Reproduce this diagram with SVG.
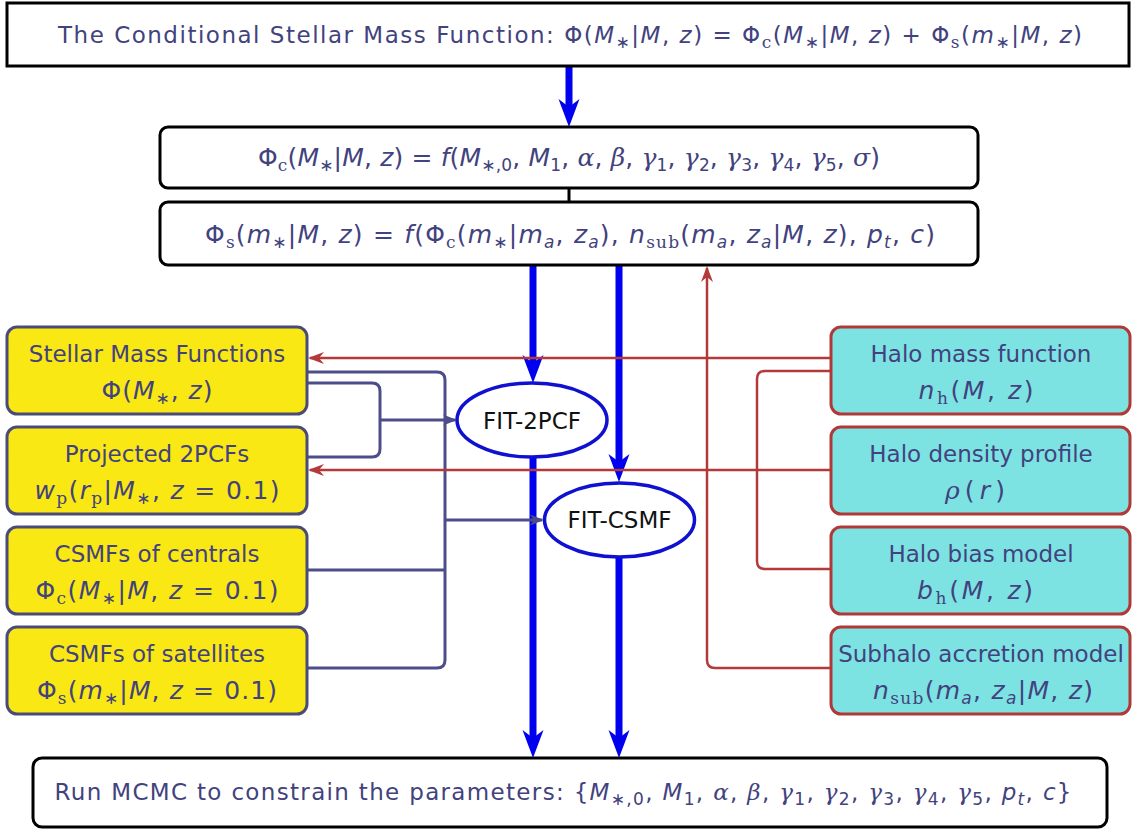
<svg xmlns="http://www.w3.org/2000/svg" width="1136" height="829" viewBox="0 0 1136 829">
<style>
.tx{font-family:"DejaVu Sans","Liberation Sans",sans-serif;font-size:23px;fill:#42427e}
.m{font-size:25px}
.fit{font-family:"DejaVu Sans","Liberation Sans",sans-serif;font-size:23px;fill:#111}
.i{font-style:italic}
.g{font-family:"DejaVu Serif","Liberation Serif",serif;font-style:italic}
.sr{font-family:"DejaVu Serif","Liberation Serif",serif;font-size:17px;baseline-shift:-5px}
.sb{font-size:17px;baseline-shift:-5px}
.si{font-size:17px;font-style:italic;baseline-shift:-5px}
.bx{fill:#fff;stroke:#000;stroke-width:3}
.yb{fill:#f9e814;stroke:#4b4b78;stroke-width:3}
.cb{fill:#7de2e2;stroke:#b03838;stroke-width:3}
.ell{fill:#fff;stroke:#1010d0;stroke-width:3.5}
.blue{fill:none;stroke:#0000ee;stroke-width:7}
.pur{fill:none;stroke:#4d4d8a;stroke-width:3}
.red{fill:none;stroke:#b23a3a;stroke-width:2.5}
</style>
<defs>
<marker id="ab" markerUnits="userSpaceOnUse" orient="auto" overflow="visible" markerWidth="40" markerHeight="30" refX="0" refY="0">
<path d="M18,0 L-10,-10.5 L-2,0 L-10,10.5 Z" fill="#0000ee"/>
</marker>
<marker id="ap" markerUnits="userSpaceOnUse" orient="auto" overflow="visible" markerWidth="20" markerHeight="20" refX="0" refY="0">
<path d="M2,0 L-12,-5.5 L-8,0 L-12,5.5 Z" fill="#4d4d8a"/>
</marker>
<marker id="ar" markerUnits="userSpaceOnUse" orient="auto" overflow="visible" markerWidth="20" markerHeight="20" refX="0" refY="0">
<path d="M2,0 L-14,-6 L-9,0 L-14,6 Z" fill="#b23a3a"/>
</marker>
</defs>

<g id="connectors">
<path class="blue" d="M569,66 V109" marker-end="url(#ab)"/>
<path d="M569,188 V202" stroke="#000" stroke-width="3"/>
<path class="blue" d="M533,265 V365" marker-end="url(#ab)"/>
<path class="blue" d="M619,265 V464" marker-end="url(#ab)"/>
<path class="blue" d="M533,458 V740" marker-end="url(#ab)"/>
<path class="blue" d="M619,558 V740" marker-end="url(#ab)"/>
<path class="pur" d="M307,372 H437 Q445,372 445,380 V660 Q445,668 437,668 H307"/>
<path class="pur" d="M307,570 H445"/>
<path class="pur" d="M445,520 H542" marker-end="url(#ap)"/>
<path class="pur" d="M307,383 H372 Q380,383 380,391 V449 Q380,457 372,457 H307"/>
<path class="pur" d="M380,420 H455" marker-end="url(#ap)"/>
<path class="red" d="M831,358 H310" marker-end="url(#ar)"/>
<path class="red" d="M831,470 H310" marker-end="url(#ar)"/>
<path class="red" d="M831,371 H765 Q757,371 757,379 V561 Q757,569 765,569 H831"/>
<path class="red" d="M831,668 H715 Q707,668 707,660 V268" marker-end="url(#ar)"/>
</g>

<g id="csmf">
<rect class="bx" x="7" y="3" width="1122" height="63"/>
<text class="tx" x="570" y="43" text-anchor="middle" textLength="1024" lengthAdjust="spacing">The Conditional Stellar Mass Function: Φ(<tspan class="i">M</tspan><tspan class="sb">∗</tspan>|<tspan class="i">M</tspan>, <tspan class="i">z</tspan>) = Φ<tspan class="sr">c</tspan>(<tspan class="i">M</tspan><tspan class="sb">∗</tspan>|<tspan class="i">M</tspan>, <tspan class="i">z</tspan>) + Φ<tspan class="sr">s</tspan>(<tspan class="i">m</tspan><tspan class="sb">∗</tspan>|<tspan class="i">M</tspan>, <tspan class="i">z</tspan>)</text>
</g>

<g id="phic">
<rect class="bx" x="160" y="127" width="818" height="61" rx="8"/>
<text class="tx m" x="569" y="166" text-anchor="middle" textLength="622" lengthAdjust="spacing">Φ<tspan class="sr">c</tspan>(<tspan class="i">M</tspan><tspan class="sb">∗</tspan>|<tspan class="i">M</tspan>, <tspan class="i">z</tspan>) = <tspan class="i">f</tspan>(<tspan class="i">M</tspan><tspan class="sb">∗,0</tspan>, <tspan class="i">M</tspan><tspan class="sb">1</tspan>, <tspan class="g">α</tspan>, <tspan class="g">β</tspan>, <tspan class="g">γ</tspan><tspan class="sb">1</tspan>, <tspan class="g">γ</tspan><tspan class="sb">2</tspan>, <tspan class="g">γ</tspan><tspan class="sb">3</tspan>, <tspan class="g">γ</tspan><tspan class="sb">4</tspan>, <tspan class="g">γ</tspan><tspan class="sb">5</tspan>, <tspan class="g">σ</tspan>)</text>
</g>

<g id="phis">
<rect class="bx" x="160" y="202" width="818" height="63" rx="8"/>
<text class="tx m" x="570" y="243" text-anchor="middle" textLength="730" lengthAdjust="spacing">Φ<tspan class="sr">s</tspan>(<tspan class="i">m</tspan><tspan class="sb">∗</tspan>|<tspan class="i">M</tspan>, <tspan class="i">z</tspan>) = <tspan class="i">f</tspan>(Φ<tspan class="sr">c</tspan>(<tspan class="i">m</tspan><tspan class="sb">∗</tspan>|<tspan class="i">m</tspan><tspan class="si">a</tspan>, <tspan class="i">z</tspan><tspan class="si">a</tspan>), <tspan class="i">n</tspan><tspan class="sr">sub</tspan>(<tspan class="i">m</tspan><tspan class="si">a</tspan>, <tspan class="i">z</tspan><tspan class="si">a</tspan>|<tspan class="i">M</tspan>, <tspan class="i">z</tspan>), <tspan class="i">p</tspan><tspan class="si">t</tspan>, <tspan class="i">c</tspan>)</text>
</g>

<g id="fit2pcf">
<ellipse class="ell" cx="532" cy="420" rx="75" ry="37"/>
<text class="fit" x="532" y="429" text-anchor="middle">FIT-2PCF</text>
</g>
<g id="fitcsmf">
<ellipse class="ell" cx="619.5" cy="520" rx="75" ry="37"/>
<text class="fit" x="619.5" y="528" text-anchor="middle">FIT-CSMF</text>
</g>

<g id="smf">
<rect class="yb" x="7" y="327" width="300" height="87" rx="10"/>
<text class="tx" x="157" y="362" text-anchor="middle">Stellar Mass Functions</text>
<text class="tx m" x="157" y="399" text-anchor="middle" textLength="111" lengthAdjust="spacing">Φ(<tspan class="i">M</tspan><tspan class="sb">∗</tspan>, <tspan class="i">z</tspan>)</text>
</g>
<g id="wp">
<rect class="yb" x="7" y="427" width="300" height="87" rx="10"/>
<text class="tx" x="157" y="462" text-anchor="middle">Projected 2PCFs</text>
<text class="tx m" x="157" y="499" text-anchor="middle" textLength="245" lengthAdjust="spacing"><tspan class="i">w</tspan><tspan class="sr">p</tspan>(<tspan class="i">r</tspan><tspan class="sr">p</tspan>|<tspan class="i">M</tspan><tspan class="sb">∗</tspan>, <tspan class="i">z</tspan> = 0.1)</text>
</g>
<g id="csmfc">
<rect class="yb" x="7" y="527" width="300" height="87" rx="10"/>
<text class="tx" x="157" y="562" text-anchor="middle">CSMFs of centrals</text>
<text class="tx m" x="157" y="599" text-anchor="middle" textLength="243" lengthAdjust="spacing">Φ<tspan class="sr">c</tspan>(<tspan class="i">M</tspan><tspan class="sb">∗</tspan>|<tspan class="i">M</tspan>, <tspan class="i">z</tspan> = 0.1)</text>
</g>
<g id="csmfs">
<rect class="yb" x="7" y="627" width="300" height="87" rx="10"/>
<text class="tx" x="157" y="662" text-anchor="middle">CSMFs of satellites</text>
<text class="tx m" x="157" y="699" text-anchor="middle" textLength="240" lengthAdjust="spacing">Φ<tspan class="sr">s</tspan>(<tspan class="i">m</tspan><tspan class="sb">∗</tspan>|<tspan class="i">M</tspan>, <tspan class="i">z</tspan> = 0.1)</text>
</g>

<g id="hmf">
<rect class="cb" x="831" y="327" width="299" height="87" rx="10"/>
<text class="tx" x="981" y="362" text-anchor="middle">Halo mass function</text>
<text class="tx m" x="976" y="399" text-anchor="middle" textLength="115" lengthAdjust="spacing"><tspan class="i">n</tspan><tspan class="sr">h</tspan>(<tspan class="i">M</tspan>, <tspan class="i">z</tspan>)</text>
</g>
<g id="hdp">
<rect class="cb" x="831" y="427" width="299" height="87" rx="10"/>
<text class="tx" x="981" y="462" text-anchor="middle">Halo density profile</text>
<text class="tx m" x="975" y="499" text-anchor="middle" textLength="60" lengthAdjust="spacing"><tspan class="g">ρ</tspan>(<tspan class="i">r</tspan>)</text>
</g>
<g id="hbm">
<rect class="cb" x="831" y="527" width="299" height="87" rx="10"/>
<text class="tx" x="981" y="562" text-anchor="middle">Halo bias model</text>
<text class="tx m" x="975" y="599" text-anchor="middle" textLength="116" lengthAdjust="spacing"><tspan class="i">b</tspan><tspan class="sr">h</tspan>(<tspan class="i">M</tspan>, <tspan class="i">z</tspan>)</text>
</g>
<g id="sam">
<rect class="cb" x="831" y="627" width="299" height="87" rx="10"/>
<text class="tx" x="981" y="662" text-anchor="middle">Subhalo accretion model</text>
<text class="tx m" x="983" y="699" text-anchor="middle" textLength="220" lengthAdjust="spacing"><tspan class="i">n</tspan><tspan class="sr">sub</tspan>(<tspan class="i">m</tspan><tspan class="si">a</tspan>, <tspan class="i">z</tspan><tspan class="si">a</tspan>|<tspan class="i">M</tspan>, <tspan class="i">z</tspan>)</text>
</g>

<g id="mcmc">
<rect class="bx" x="33" y="758" width="1074" height="69" rx="9"/>
<text class="tx" x="563" y="800" text-anchor="middle" textLength="1017" lengthAdjust="spacing">Run MCMC to constrain the parameters: {<tspan class="i">M</tspan><tspan class="sb">∗,0</tspan>, <tspan class="i">M</tspan><tspan class="sb">1</tspan>, <tspan class="g">α</tspan>, <tspan class="g">β</tspan>, <tspan class="g">γ</tspan><tspan class="sb">1</tspan>, <tspan class="g">γ</tspan><tspan class="sb">2</tspan>, <tspan class="g">γ</tspan><tspan class="sb">3</tspan>, <tspan class="g">γ</tspan><tspan class="sb">4</tspan>, <tspan class="g">γ</tspan><tspan class="sb">5</tspan>, <tspan class="i">p</tspan><tspan class="si">t</tspan>, <tspan class="i">c</tspan>}</text>
</g>
</svg>
